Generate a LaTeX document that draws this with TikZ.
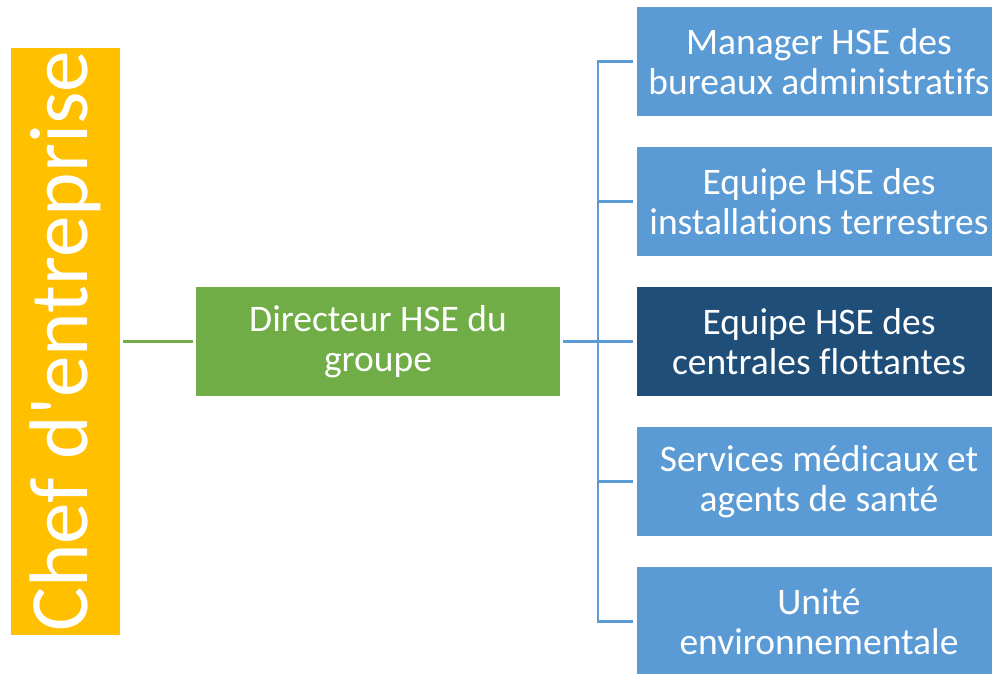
\documentclass[tikz,border=0pt]{standalone}
\usepackage{fontspec}
\setmainfont{Carlito}[Ligatures={NoCommon}]
\newfontfamily\chefpolice{Carlito}[Ligatures={NoCommon}]
\definecolor{chefjaune}{HTML}{FFC000}
\definecolor{dirvert}{HTML}{70AD47}
\definecolor{equipebleu}{HTML}{5B9BD5}
\definecolor{equipefonce}{HTML}{1F4E79}
\tikzset{
  boite/.style={fill=equipebleu, text=white, minimum width=364pt, minimum height=109pt,
    inner sep=0pt, align=center, font=\fontsize{37.5}{40}\selectfont},
  lienbleu/.style={draw=equipebleu, line width=2.5pt},
  lienvert/.style={draw=dirvert, line width=2.5pt}
}
\begin{document}
\begin{tikzpicture}[x=1pt, y=-1pt]
  \useasboundingbox (0,0) rectangle (992,673);

  % Chef et directeur
  \node[fill=chefjaune, minimum width=109pt, minimum height=587pt, inner sep=0pt] (chef) at (65.5,341.5) {};
  \node[rotate=90, text=white, font=\chefpolice\fontsize{83}{90}\selectfont] at (chef.center) {Chef d'entreprise};
  \node[boite, fill=dirvert] (dir) at (378,341.5) {Directeur HSE du\\groupe};

  % Equipes
  \node[boite] (eq1) at (819,61.5) {Manager HSE des\\bureaux administratifs};
  \node[boite] (eq2) at (819,201.5) {Equipe HSE des\\installations terrestres};
  \node[boite, fill=equipefonce] (eq3) at (819,341.5) {Equipe HSE des\\centrales flottantes};
  \node[boite] (eq4) at (819,481.5) {Services médicaux et\\agents de santé};
  \node[boite] (eq5) at (819,621.5) {Unité\\environnementale};

  % Liens
  \draw[lienvert, shorten <=3pt, shorten >=3pt] (chef.east) -- (dir.west);
  \coordinate (bus) at (598,341.5);
  \draw[lienbleu, shorten <=3pt] (dir.east) -- (bus);
  \foreach \i in {1,...,5}
    \draw[lienbleu, shorten >=4pt] (bus) |- (eq\i.west);

\end{tikzpicture}
\end{document}
